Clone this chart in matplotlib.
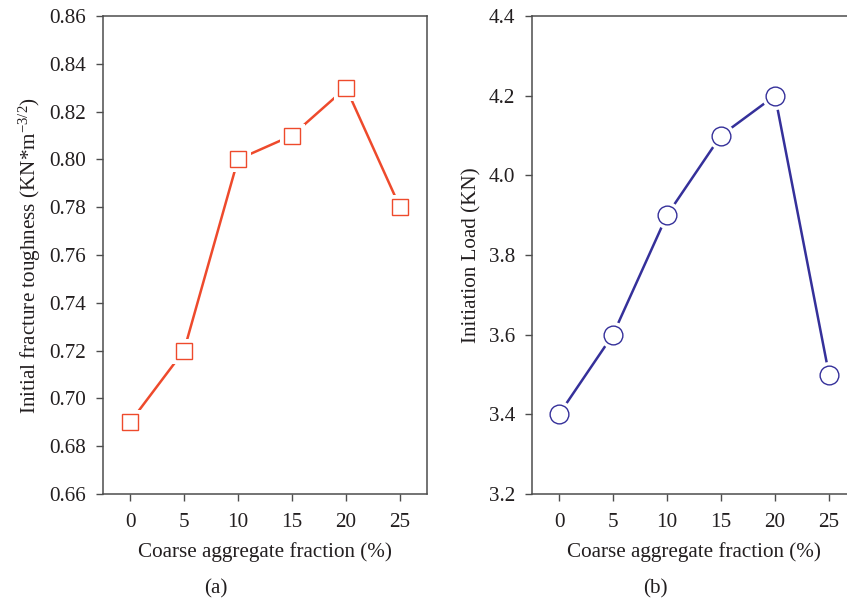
import matplotlib
matplotlib.use("Agg")
import matplotlib.pyplot as plt

# Coarse aggregate fraction (%) and measured responses
fraction = [0, 5, 10, 15, 20, 25]
toughness = [0.69, 0.72, 0.80, 0.81, 0.83, 0.78]
initiation_load = [3.4, 3.6, 3.9, 4.1, 4.2, 3.5]

x_ticks = [0, 5, 10, 15, 20, 25]
toughness_ticks = [0.66, 0.68, 0.70, 0.72, 0.74, 0.76, 0.78, 0.80, 0.82, 0.84, 0.86]
load_ticks = [3.2, 3.4, 3.6, 3.8, 4.0, 4.2, 4.4]

plt.rcParams["font.family"] = ["Liberation Serif", "DejaVu Serif"]
plt.rcParams["mathtext.fontset"] = "custom"
plt.rcParams["mathtext.rm"] = "Liberation Serif"
plt.rcParams["mathtext.it"] = "Liberation Serif:italic"
plt.rcParams["mathtext.bf"] = "Liberation Serif:bold"

W, H = 847, 605
fig = plt.figure(figsize=(W / 100, H / 100), dpi=100)

spine_color = "#4d4d4d"
text_color = "#231f20"
fs = 15.2


def panel(rect, y, color, marker, msize, yticks, fmt, ylabel):
    ax = fig.add_axes(rect)
    ax.plot(fraction, y, color=color, lw=1.8, zorder=2)
    # white halo leaves a small gap between the line and each hollow marker
    ax.plot(fraction, y, ls="none", marker=marker, ms=msize + 6,
            mfc="white", mec="white", mew=0, zorder=3)
    ax.plot(fraction, y, ls="none", marker=marker, ms=msize,
            mfc="white", mec=color, mew=1.0, zorder=4)
    ax.set_xlim(-2.5, 27.5)
    ax.set_ylim(yticks[0], yticks[-1])
    ax.set_xticks(x_ticks)
    ax.set_xticklabels([str(v) for v in x_ticks])
    ax.set_yticks(yticks)
    ax.set_yticklabels([fmt.format(v) for v in yticks])
    for s in ax.spines.values():
        s.set_color(spine_color)
        s.set_linewidth(1.1)
    ax.tick_params(direction="out", length=5, width=1.0, color=spine_color,
                   labelsize=fs, labelcolor=text_color)
    ax.tick_params(axis="x", pad=9)
    ax.tick_params(axis="y", pad=7)
    ax.set_xlabel("Coarse aggregate fraction (%)", fontsize=fs,
                  color=text_color, labelpad=7)
    ax.set_ylabel(ylabel, fontsize=fs, color=text_color, labelpad=5)
    return ax


ax_w = 324 / W
ax_h = (494 - 16) / H
ax_y = 1 - 494 / H

panel([103 / W, ax_y, ax_w, ax_h], toughness, "#ee4a2c", "s", 12,
      toughness_ticks, "{:.2f}",
      r"Initial fracture toughness (KN*m$^{-3/2}$)")
panel([532 / W, ax_y, ax_w, ax_h], initiation_load, "#35309a", "o", 13.5,
      load_ticks, "{:.1f}", "Initiation Load (KN)")

fig.text(216 / W, 1 - 589 / H, "(a)", ha="center", va="center",
         fontsize=fs, color=text_color)
fig.text(655 / W, 1 - 589 / H, "(b)", ha="center", va="center",
         fontsize=fs, color=text_color)

fig.savefig("out.png", dpi=100)
